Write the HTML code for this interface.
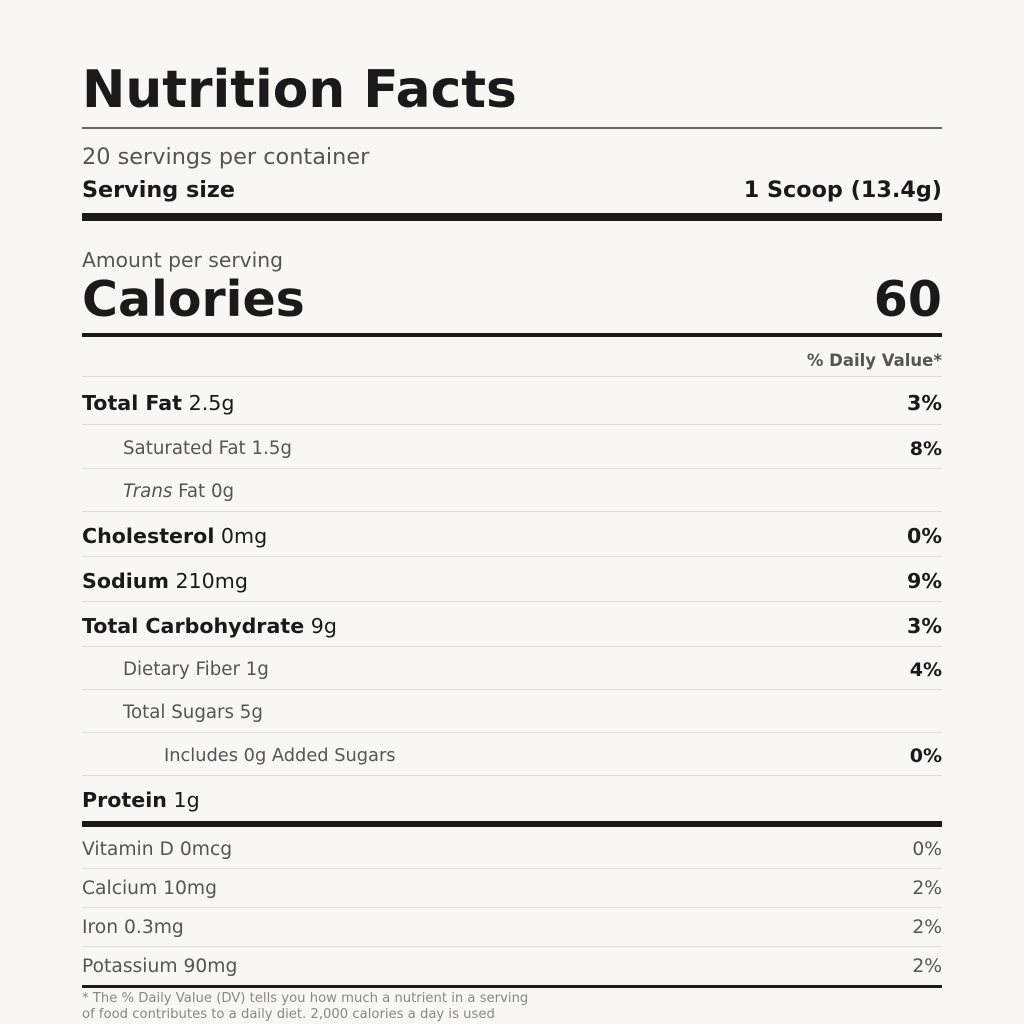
<!DOCTYPE html>
<html><head><meta charset="utf-8"><style>
html,body{margin:0;padding:0;}
body{width:1024px;height:1024px;background:#f8f7f4;font-family:"DejaVu Sans","Liberation Sans",sans-serif;color:#1a1a1a;position:relative;overflow:hidden;}
.a{position:absolute;white-space:nowrap;}
.l{left:82px;}
.r{right:82px;text-align:right;}
.hr{position:absolute;left:82px;width:860px;}
.row{font-size:20.6px;line-height:24px;}
.sub{font-size:18.2px;line-height:22px;color:#555;}
.sp{font-size:19px;line-height:22px;font-weight:bold;}
.v{font-size:18.7px;line-height:24px;color:#555;}
.g{color:#555;}
b{font-weight:bold;color:#1a1a1a;}
</style></head><body>
<div class="a l" style="top:59px;font-size:51.8px;line-height:62px;font-weight:bold;">Nutrition Facts</div>
<div class="hr" style="top:127px;height:2px;background:#666;"></div>
<div class="a l g" style="top:143px;font-size:22.4px;line-height:28px;">20 servings per container</div>
<div class="a l" style="top:176px;font-size:22.3px;line-height:28px;font-weight:bold;">Serving size</div>
<div class="a r" style="top:176px;font-size:22.3px;line-height:28px;font-weight:bold;">1 Scoop (13.4g)</div>
<div class="hr" style="top:213px;height:8px;background:#1a1a1a;"></div>
<div class="a l g" style="top:247px;font-size:20.3px;line-height:26px;">Amount per serving</div>
<div class="a l" style="top:270px;font-size:49px;line-height:60px;font-weight:bold;">Calories</div>
<div class="a r" style="top:270px;font-size:49px;line-height:60px;font-weight:bold;">60</div>
<div class="hr" style="top:333px;height:4px;background:#1a1a1a;"></div>
<div class="a r g" style="top:351px;font-size:16.5px;line-height:20px;font-weight:bold;">% Daily Value*</div>
<div class="hr" style="top:376px;height:1px;background:#ddd;"></div>

<div class="a l row" style="top:391px;"><b>Total Fat</b> 2.5g</div>
<div class="a r row" style="top:391px;font-weight:bold;">3%</div>
<div class="hr" style="top:424px;height:1px;background:#ddd;"></div>

<div class="a sub" style="left:123px;top:438px;">Saturated Fat 1.5g</div>
<div class="a r sp" style="top:438px;">8%</div>
<div class="hr" style="top:468px;height:1px;background:#ddd;"></div>

<div class="a sub" style="left:123px;top:481px;"><i>Trans</i> Fat 0g</div>
<div class="hr" style="top:511px;height:1px;background:#ddd;"></div>

<div class="a l row" style="top:524px;"><b>Cholesterol</b> 0mg</div>
<div class="a r row" style="top:524px;font-weight:bold;">0%</div>
<div class="hr" style="top:556px;height:1px;background:#ddd;"></div>

<div class="a l row" style="top:569px;"><b>Sodium</b> 210mg</div>
<div class="a r row" style="top:569px;font-weight:bold;">9%</div>
<div class="hr" style="top:601px;height:1px;background:#ddd;"></div>

<div class="a l row" style="top:614px;"><b>Total Carbohydrate</b> 9g</div>
<div class="a r row" style="top:614px;font-weight:bold;">3%</div>
<div class="hr" style="top:646px;height:1px;background:#ddd;"></div>

<div class="a sub" style="left:123px;top:659px;">Dietary Fiber 1g</div>
<div class="a r sp" style="top:659px;">4%</div>
<div class="hr" style="top:689px;height:1px;background:#ddd;"></div>

<div class="a sub" style="left:123px;top:702px;">Total Sugars 5g</div>
<div class="hr" style="top:732px;height:1px;background:#ddd;"></div>

<div class="a" style="left:164px;top:745px;font-size:17.8px;line-height:22px;color:#555;">Includes 0g Added Sugars</div>
<div class="a r sp" style="top:745px;">0%</div>
<div class="hr" style="top:775px;height:1px;background:#ddd;"></div>

<div class="a l row" style="top:788px;"><b>Protein</b> 1g</div>
<div class="hr" style="top:821px;height:6px;background:#1a1a1a;"></div>

<div class="a l v" style="top:838px;">Vitamin D 0mcg</div>
<div class="a r v" style="top:838px;">0%</div>
<div class="hr" style="top:868px;height:1px;background:#ddd;"></div>
<div class="a l v" style="top:877px;">Calcium 10mg</div>
<div class="a r v" style="top:877px;">2%</div>
<div class="hr" style="top:907px;height:1px;background:#ddd;"></div>
<div class="a l v" style="top:916px;">Iron 0.3mg</div>
<div class="a r v" style="top:916px;">2%</div>
<div class="hr" style="top:946px;height:1px;background:#ddd;"></div>
<div class="a l v" style="top:955px;">Potassium 90mg</div>
<div class="a r v" style="top:955px;">2%</div>
<div class="hr" style="top:985px;height:3px;background:#1a1a1a;"></div>

<div class="a l" style="top:991px;font-size:13.2px;line-height:16px;color:#888;">* The % Daily Value (DV) tells you how much a nutrient in a serving<br>of food contributes to a daily diet. 2,000 calories a day is used</div>
</body></html>
